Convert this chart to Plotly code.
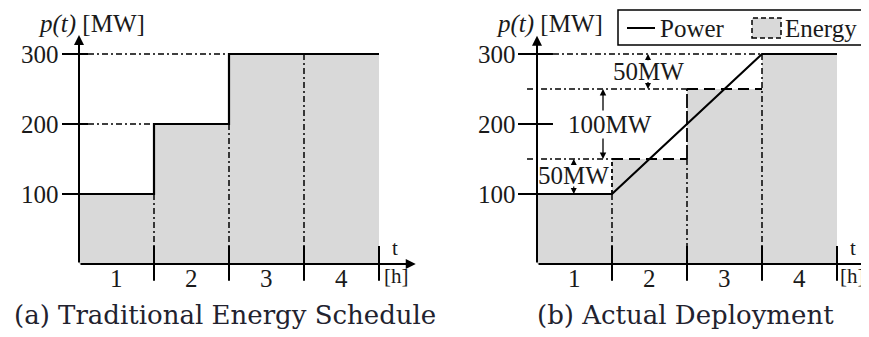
import plotly.graph_objects as go

# ---------------- data ----------------
hour_centers = [0.5, 1.5, 2.5, 3.5]
hour_labels = ["1", "2", "3", "4"]
y_ticks = [100, 200, 300]

sched_energy = [100, 200, 300, 300]       # (a) traditional schedule, MW per hour
actual_energy = [100, 150, 250, 300]      # (b) energy delivered per hour

power_t_a = [0, 1, 1, 2, 2, 4]
power_p_a = [100, 100, 200, 200, 300, 300]
power_t_b = [0, 1, 3, 4]
power_p_b = [100, 100, 300, 300]

# ---------------- styling constants ----------------
SERIF = "Liberation Serif"
CAP = "DejaVu Serif"
FILL = "#d9d9d9"
INK = "#1a1a1a"
DASHDOT = "6px,3px,2px,3px"
LONGDASH = "11px,6px"
OFF = 8                     # page body margin
W, H = 869 - OFF, 337 - OFF
PX_T = 75.0                 # pixels per hour
PX_P = 0.7                  # pixels per MW
Y0 = 264 - OFF              # pixel row of p=0 (figure coords)
XA0 = 79 - OFF              # pixel column of t=0, panel (a)
XB0 = 537 - OFF             # pixel column of t=0, panel (b)
TXT = 25

fig = go.Figure()


def seg(xs, ys, ax, dash="solid", width=2.0, color="black"):
    fig.add_trace(go.Scatter(x=xs, y=ys, xaxis=ax, yaxis="y", mode="lines",
                             line=dict(color=color, width=width, dash=dash),
                             hoverinfo="skip", showlegend=False))


# energy fill
fig.add_trace(go.Bar(x=hour_centers, y=sched_energy, width=1, xaxis="x", yaxis="y",
                     marker=dict(color=FILL, line=dict(width=0)), hoverinfo="skip"))
fig.add_trace(go.Bar(x=hour_centers, y=actual_energy, width=1, xaxis="x2", yaxis="y",
                     marker=dict(color=FILL, line=dict(width=0)), hoverinfo="skip"))

VBOT = 25.7     # bottom of dash-dot verticals
TBOT = -24.0    # bottom of hour ticks

# ---------- panel (a) ----------
seg([0.12, 1], [200, 200], "x", DASHDOT, 1.5)
seg([0.12, 2], [300, 300], "x", DASHDOT, 1.5)
seg([1, 1], [100, VBOT], "x", DASHDOT, 1.5)
seg([2, 2], [200, VBOT], "x", DASHDOT, 1.5)
seg([3, 3], [300, VBOT], "x", DASHDOT, 1.5)
for t in [1, 2, 3, 4]:
    seg([t, t], [VBOT, TBOT], "x", "solid", 2)
seg([-0.227, 0.12], [200, 200], "x", "solid", 2)
seg([-0.227, 0.12], [300, 300], "x", "solid", 2)
seg([-0.227, 0], [100, 100], "x", "solid", 2)
seg(power_t_a, power_p_a, "x", "solid", 2.2)

# ---------- panel (b) ----------
seg([0.213, 3], [300, 300], "x2", DASHDOT, 1.5)
seg([-0.133, 2], [250, 250], "x2", DASHDOT, 1.5)
seg([-0.133, 1], [150, 150], "x2", DASHDOT, 1.5)
seg([1, 2], [150, 150], "x2", LONGDASH, 1.8)
seg([2, 3], [250, 250], "x2", LONGDASH, 1.8)
seg([1, 1], [100, 150], "x2", "4px,3px", 1.8)
seg([2, 2], [150, 250], "x2", "14px,3px", 1.8)
seg([1, 1], [100, VBOT], "x2", DASHDOT, 1.5)
seg([2, 2], [150, VBOT], "x2", DASHDOT, 1.5)
seg([3, 3], [300, VBOT], "x2", DASHDOT, 1.5)
for t in [1, 2, 3, 4]:
    seg([t, t], [VBOT, TBOT], "x2", "solid", 2)
seg([-0.253, 0.213], [200, 200], "x2", "solid", 2)
seg([-0.253, 0.213], [300, 300], "x2", "solid", 2)
seg([-0.253, 0], [100, 100], "x2", "solid", 2)
seg(power_t_b, power_p_b, "x2", "solid", 2.2)

ann = []


def arrow(ax_name, x0, y0, x1, y1, width=2.0, head=2, size=1.0):
    ann.append(dict(x=x1, y=y1, ax=x0, ay=y0, xref=ax_name, yref="y",
                    axref=ax_name, ayref="y", text="", showarrow=True,
                    arrowhead=head, arrowsize=size, arrowwidth=width,
                    arrowcolor="black", standoff=0, startstandoff=0))


def text(ax_name, x, y, s, size=TXT, xanchor="center", font=SERIF, bg=None, color=INK):
    d = dict(x=x, y=y, xref=ax_name, yref="y", text=s, showarrow=False,
             xanchor=xanchor, yanchor="middle",
             font=dict(family=font, size=size, color=color))
    if bg:
        d["bgcolor"] = bg
        d["borderpad"] = 0
    ann.append(d)


for ax_name, tip_x, lab_x, tip_y, hx in [("x", 4.49, -0.24, 327, 4.23), ("x2", 4.5, -0.253, 326, 4.2)]:
    arrow(ax_name, 0, 0, 0, tip_y, 2, 2, 1)         # y axis
    arrow(ax_name, 0, 0, tip_x, 0, 2, 2, 1)         # t axis
    for v in y_ticks:
        text(ax_name, lab_x, v, str(v), TXT, "right")
    for c, s in zip(hour_centers, hour_labels):
        text(ax_name, c, -20, s, TXT)
    ann.append(dict(x=4.21, y=4, xref=ax_name, yref="y", text="t", showarrow=False,
                    xanchor="center", yanchor="bottom", borderpad=0,
                    font=dict(family=SERIF, size=21, color=INK)))
    ann.append(dict(x=hx, y=2, xref=ax_name, yref="y", text="[h]", showarrow=False,
                    xanchor="center", yanchor="top", borderpad=0,
                    font=dict(family=SERIF, size=21, color=INK)))
    text(ax_name, 0.16, 343, "<i>p(t)</i> [MW]", TXT)

# dimension annotations in (b)
arrow("x2", 0.88, 200, 0.88, 250, 1.3, 2, 1)
arrow("x2", 0.88, 200, 0.88, 150, 1.3, 2, 1)
text("x2", 0.973, 200, "100MW", TXT, bg="white")
text("x2", 1.48, 275, "50MW", TXT)
arrow("x2", 1.48, 289, 1.48, 300, 1.2, 2, 1)
arrow("x2", 1.48, 262, 1.48, 250, 1.2, 2, 1)
text("x2", 0.48, 127, "50MW", TXT)
arrow("x2", 0.49, 140, 0.49, 150, 1.2, 2, 1)
arrow("x2", 0.49, 113, 0.49, 100, 1.2, 2, 1)


def px(x):
    return (x - OFF) / W


def py(y):
    return 1 - (y - OFF) / H


# captions
for cx, s in [(225, "(a) Traditional Energy Schedule"), (685, "(b) Actual Deployment")]:
    ann.append(dict(x=px(cx), y=py(315), xref="paper", yref="paper", text=s,
                    showarrow=False, xanchor="center", yanchor="middle",
                    font=dict(family=CAP, size=26, color="#22222e")))

# legend (drawn manually)
shapes = [
    dict(type="rect", xref="paper", yref="paper", x0=px(618), x1=px(867), y0=py(45), y1=py(10),
         line=dict(color="black", width=1.5), fillcolor="white", layer="above"),
    dict(type="line", xref="paper", yref="paper", x0=px(627), x1=px(655), y0=py(28), y1=py(28),
         line=dict(color="black", width=2), layer="above"),
    dict(type="rect", xref="paper", yref="paper", x0=px(752), x1=px(781), y0=py(38), y1=py(18),
         line=dict(color="black", width=1.5, dash="5px,3px"), fillcolor=FILL, layer="above"),
]
for lx, s in [(658, "Power"), (783, "Energy")]:
    ann.append(dict(x=px(lx), y=py(28), xref="paper", yref="paper", text=s,
                    showarrow=False, xanchor="left", yanchor="middle",
                    font=dict(family=SERIF, size=TXT, color=INK)))

fig.update_layout(
    width=W, height=H,
    margin=dict(l=0, r=0, t=0, b=0),
    paper_bgcolor="white", plot_bgcolor="white",
    showlegend=False, barmode="overlay",
    xaxis=dict(range=[-XA0 / PX_T, (W - XA0) / PX_T], domain=[0, 1], visible=False, fixedrange=True),
    xaxis2=dict(range=[-XB0 / PX_T, (W - XB0) / PX_T], domain=[0, 1], overlaying="x",
                visible=False, fixedrange=True),
    yaxis=dict(range=[(Y0 - H) / PX_P, Y0 / PX_P], domain=[0, 1], visible=False, fixedrange=True),
    annotations=ann, shapes=shapes,
)

fig.write_html("out.html")
